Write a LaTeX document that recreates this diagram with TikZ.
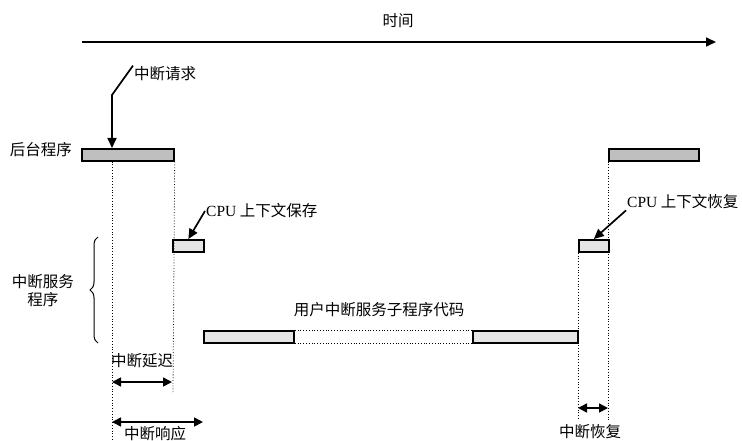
\documentclass[tikz,border=0pt]{standalone}
\usepackage{fontspec}
\setmainfont{Liberation Serif}
\newfontfamily\cjk{Noto Sans CJK SC}
\usepackage{tikz}
\usetikzlibrary{arrows.meta}
\usetikzlibrary{decorations.pathreplacing}

\begin{document}
\begin{tikzpicture}[x=1pt,y=-1pt]
	\tikzstyle{every node}=[font=\fontsize{15.5}{18}\selectfont\cjk, inner sep=1pt]
	\tikzstyle{darkbar}=[draw=black, line width=1.7pt, fill=gray!50, minimum height=12pt, inner sep=0pt, anchor=north west]
	\tikzstyle{lightbar}=[draw=black, line width=1.7pt, fill=gray!20, minimum height=12pt, inner sep=0pt, anchor=north west]
	\tikzstyle{guide}=[dotted, line width=0.8pt]
	\tikzstyle{pointer}=[line width=1.7pt, -{Triangle[length=10pt,width=9pt]}]
	\tikzstyle{span}=[line width=1.7pt, {Triangle[length=9pt,width=9pt]}-{Triangle[length=9pt,width=9pt]}]
	
	\useasboundingbox (0,0) rectangle (742,441);
	
	% time axis
	\coordinate (t0) at (82,42);
	\coordinate (t1) at (716,42);
	\draw [pointer] (t0) -- (t1);
	\node (time) at (398,21) {时间};
	
	% bars
	\node [darkbar, minimum width=92pt] (bgA) at (81,148) {};
	\node [darkbar, minimum width=90pt] (bgB) at (608,148) {};
	\node [lightbar, minimum width=31pt] (save) at (172,239) {};
	\node [lightbar, minimum width=30pt] (restore) at (578,239) {};
	\node [lightbar, minimum width=90pt] (codeA) at (203,330) {};
	\node [lightbar, minimum width=105pt] (codeB) at (472,330) {};
	
	% interrupt request
	\node [anchor=west] (req) at (133,74) {中断请求};
	\coordinate (reqbend) at (112,95);
	\draw [pointer] (req.north west) -- (reqbend) -- (reqbend |- bgA.north);
	
	% guides
	\draw [guide] (reqbend |- bgA.south) -- (112,446);
	\draw [guide] (bgA.south east) -- (173,392);
	\draw [guide] (bgB.south west) -- (608,420);
	\draw [guide] (restore.south west) -- (578,420);
	\draw [guide] (codeA.north east) -- (codeB.north west);
	\draw [guide] (codeA.south east) -- (codeB.south west);
	
	% labels
	\node [anchor=east] (fg) at (73,150) {后台程序};
	\node [anchor=west] (savelbl) at (205,211) {{\rmfamily CPU} 上下文保存};
	\draw [pointer] (savelbl.west) -- (save.north);
	\node [anchor=west] (restlbl) at (626,202) {{\rmfamily CPU} 上下文恢复};
	\draw [pointer] (restlbl.south west) -- (restore.north);
	\node (codelbl) at (379,310) {用户中断服务子程序代码};
	
	% brace
	\coordinate (brtop) at (98,237);
	\coordinate (brbot) at (98,343);
	\draw [line width=1pt, decorate, decoration={brace, amplitude=8pt}] (brbot) -- (brtop);
	\node [align=center] (isr) at (43,291) {中断服务\\程序};
	
	% spans
	\node (dlylbl) at (142,361) {中断延迟};
	\coordinate (dlyL) at (112,382);
	\coordinate (dlyR) at (172,382);
	\draw [span] (dlyL) -- (dlyR);
	\coordinate (rspL) at (112,422);
	\coordinate (rspR) at (203,422);
	\draw [span] (rspL) -- (rspR);
	\node (rsplbl) at (155,434) {中断响应};
	\coordinate (rstL) at (578,408);
	\coordinate (rstR) at (608,408);
	\draw [span] (rstL) -- (rstR);
	\node (rstlbl) at (590,432) {中断恢复};
	
\end{tikzpicture}
\end{document}
